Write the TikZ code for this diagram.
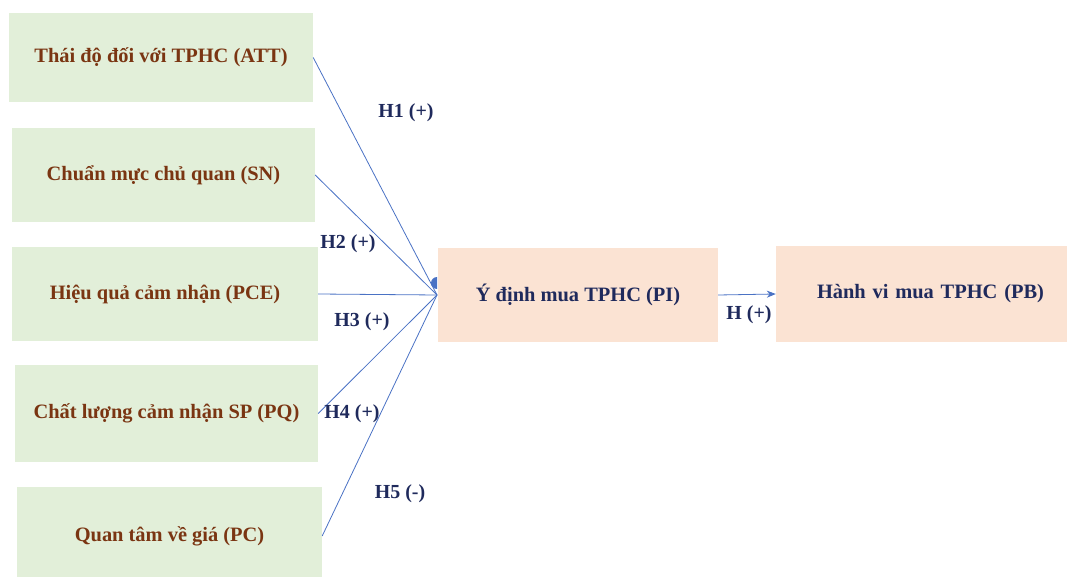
\documentclass[tikz,border=0pt]{standalone}
\usepackage{fontspec}
\setmainfont{Liberation Serif}
\usetikzlibrary{arrows.meta}
\definecolor{boxgreen}{HTML}{E2EFD9}
\definecolor{boxorange}{HTML}{FBE3D3}
\definecolor{txtbrown}{HTML}{7A3512}
\definecolor{txtnavy}{HTML}{1F2A5C}
\definecolor{linkblue}{HTML}{4A72C4}
\tikzset{
  greenbox/.style={fill=boxgreen, draw=none, inner sep=0pt, text=txtbrown,
    font=\fontsize{20.5}{23}\selectfont\bfseries},
  orangebox/.style={fill=boxorange, draw=none, inner sep=0pt, text=txtnavy,
    font=\fontsize{20.5}{23}\selectfont\bfseries},
  hlabel/.style={text=txtnavy, font=\fontsize{20}{23}\selectfont\bfseries, inner sep=0pt},
  link/.style={draw=linkblue, line width=0.8bp},
}
\begin{document}
\begin{tikzpicture}[x=1bp,y=-1bp]
\useasboundingbox (0,0) rectangle (1067,577);
\clip (0,0) rectangle (1067,577);
\node[greenbox, minimum width=304bp, minimum height=89bp] (att) at (161,57.5) {Thái độ đối với TPHC (ATT)};
\node[greenbox, minimum width=303bp, minimum height=94bp] (sn) at (163.5,175) {Chuẩn mực chủ quan (SN)};
\node[greenbox, minimum width=306bp, minimum height=94bp] (pce) at (165,294) {Hiệu quả cảm nhận (PCE)};
\node[greenbox, minimum width=303bp, minimum height=97bp] (pq) at (166.5,413.5) {Chất lượng cảm nhận SP (PQ)};
\node[greenbox, minimum width=305bp, minimum height=98bp] (pc) at (169.5,536) {Quan tâm về giá (PC)};
\node[orangebox, minimum width=280bp, minimum height=94bp] (pi) at (578,295) {Ý định mua TPHC (PI)};
\node[orangebox, minimum width=300bp, minimum height=96bp, text width=300bp, align=left] (pb) at (926,294) {\hspace*{41bp}Hành vi mua TPHC (PB)};
\coordinate (hub) at (437,295);
\draw[link] (att.east) -- (hub);
\draw[link] (sn.east) -- (hub);
\draw[link] (pce.east) -- (hub);
\draw[link] (pq.east) -- (hub);
\draw[link] (pc.east) -- (hub);
\fill[linkblue] (hub) ++(0,-6) arc[start angle=90, end angle=270, radius=6] -- cycle;
\draw[link, -{Stealth[length=9bp,width=7bp]}] (pi.east) -- (pb.west);
\node[hlabel] (h1) at (406,113) {H1 (+)};
\node[hlabel] (h2) at (348,244) {H2 (+)};
\node[hlabel] (h3) at (362,322) {H3 (+)};
\node[hlabel] (h4) at (352,414) {H4 (+)};
\node[hlabel] (h5) at (400,494) {H5 (-)};
\node[hlabel] (h) at (749,315) {H (+)};
\end{tikzpicture}
\end{document}
